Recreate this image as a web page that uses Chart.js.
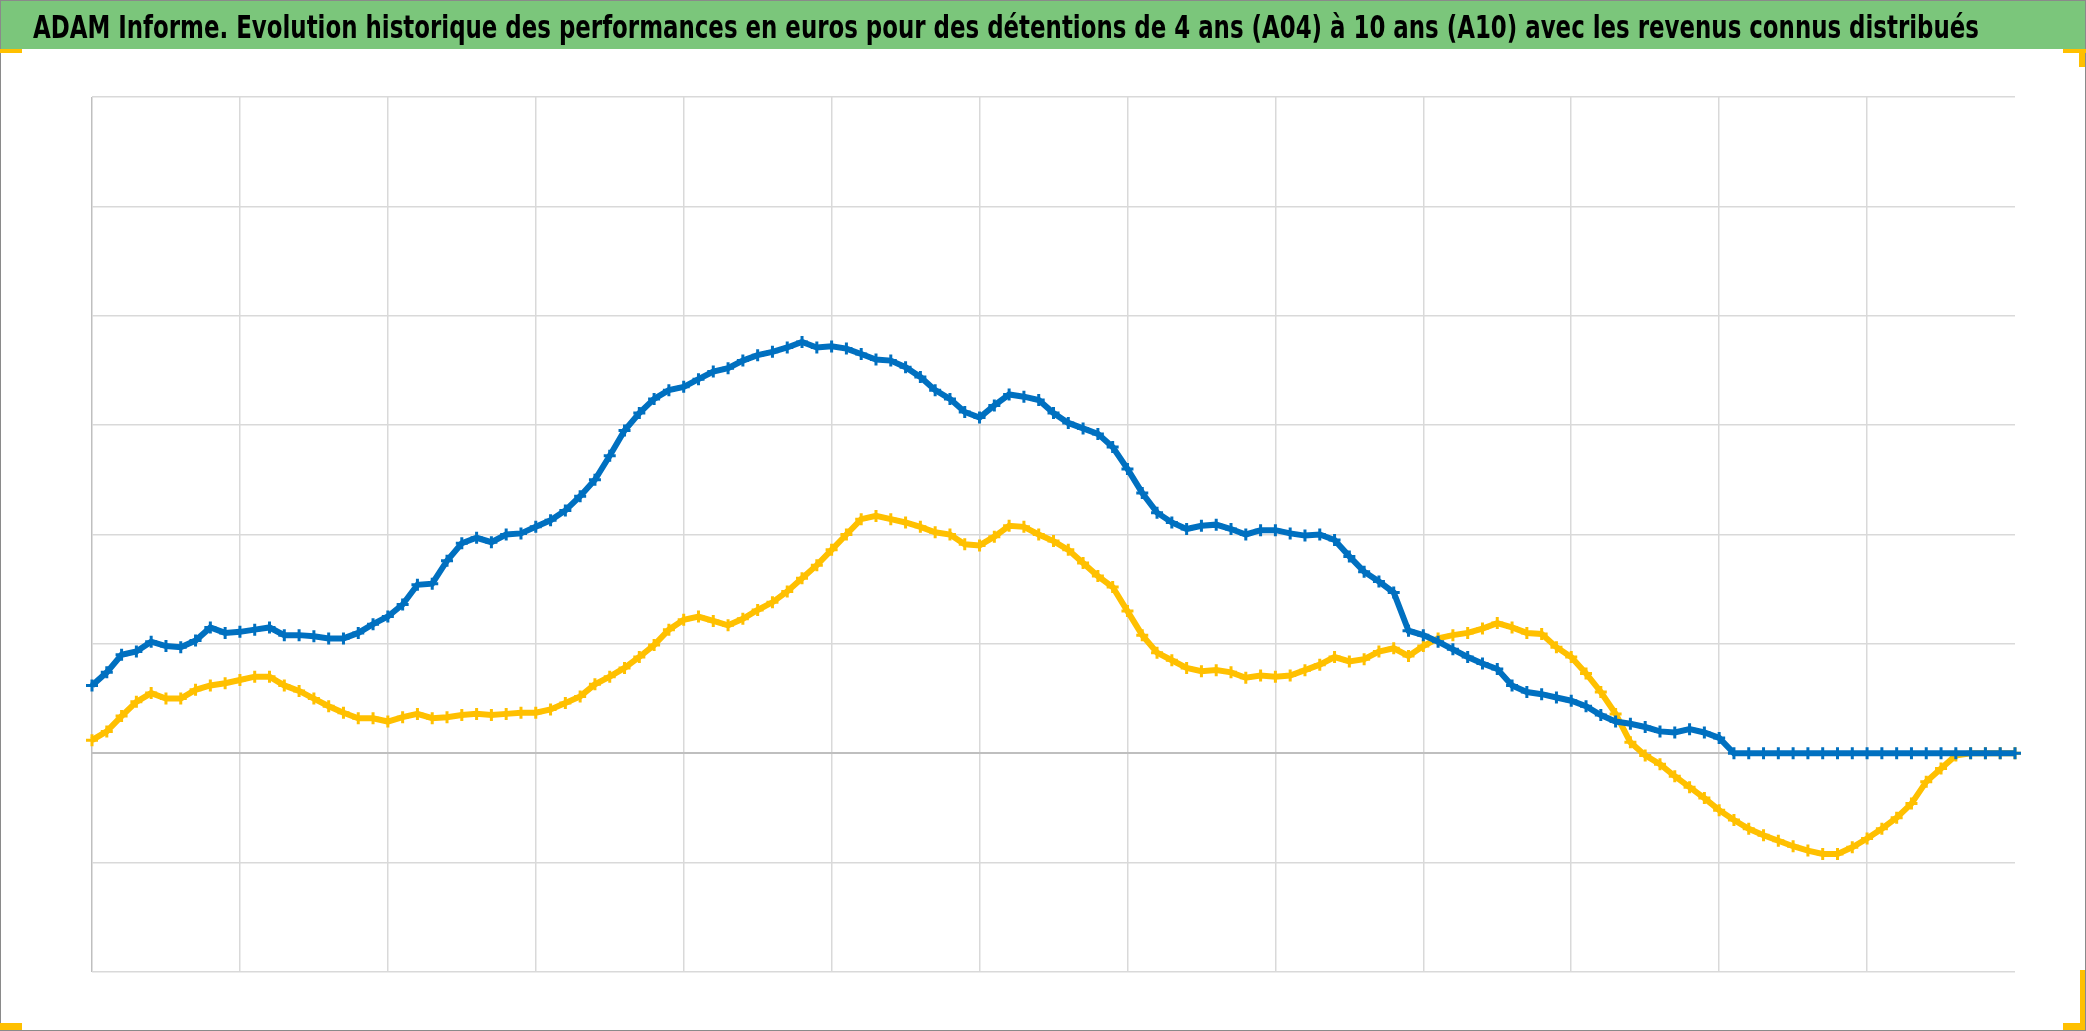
<!DOCTYPE html>
<html>
<head>
<meta charset="utf-8">
<script src="https://cdn.jsdelivr.net/npm/chart.js@4.4.1/dist/chart.umd.min.js"></script>
<style>
  html, body { margin: 0; padding: 0; background: #fff; }
  #wrap { position: relative; width: 2086px; height: 1031px; overflow: hidden; }
  #title-bar {
    position: absolute; left: 0; top: 0; width: 2086px; height: 49px;
    background: #7bc67b;
  }
  #title {
    position: absolute; left: 33px; top: 0; line-height: 49px; padding-top: 3px;
    white-space: nowrap; color: #000; font-weight: bold; font-size: 32px;
    font-family: "Liberation Sans Narrow", "DejaVu Sans Condensed", "Liberation Sans", sans-serif;
    transform-origin: 0 50%;
  }
  #chart-area { position: absolute; left: 0; top: 0; }
  #frame {
    position: absolute; left: 0; top: 0; width: 2086px; height: 1031px;
    box-sizing: border-box; border: 1px solid #8a8a8a; pointer-events: none;
  }
  .mark { position: absolute; background: #ffc000; }
</style>
</head>
<body>
<div id="wrap">
  <canvas id="chart-area" width="2086" height="1031"></canvas>
  <div id="title-bar"><span id="title">ADAM Informe. Evolution historique des performances en euros pour des détentions de 4 ans (A04) à 10 ans (A10) avec les revenus connus distribués</span></div>
  <div id="frame"></div>
  <div class="mark" style="left:0;top:49px;width:22px;height:4px"></div>
  <div class="mark" style="left:2063px;top:49px;width:23px;height:4px"></div>
  <div class="mark" style="left:2079px;top:49px;width:6px;height:18px"></div>
  <div class="mark" style="left:0;top:1023px;width:22px;height:7px"></div>
  <div class="mark" style="left:2063px;top:1023px;width:22px;height:7px"></div>
  <div class="mark" style="left:2080px;top:970px;width:5px;height:60px"></div>
</div>
<script>
// performance (thousands of euros), one value per period
var serieA10 = [
    0.62, 0.74, 0.90, 0.93, 1.02, 0.98, 0.97, 1.03, 1.15, 1.10,
    1.11, 1.13, 1.15, 1.08, 1.08, 1.07, 1.05, 1.05, 1.10, 1.18,
    1.25, 1.36, 1.54, 1.55, 1.76, 1.92, 1.97, 1.93, 2.00, 2.01,
    2.07, 2.13, 2.22, 2.35, 2.50, 2.72, 2.95, 3.11, 3.24, 3.32,
    3.35, 3.42, 3.49, 3.52, 3.59, 3.64, 3.67, 3.71, 3.76, 3.71,
    3.72, 3.70, 3.65, 3.60, 3.59, 3.53, 3.44, 3.32, 3.24, 3.12,
    3.07, 3.18, 3.28, 3.26, 3.23, 3.11, 3.02, 2.97, 2.92, 2.80,
    2.60, 2.38, 2.20, 2.11, 2.05, 2.08, 2.09, 2.05, 2.00, 2.04,
    2.04, 2.01, 1.99, 2.00, 1.95, 1.80, 1.66, 1.57, 1.47, 1.12,
    1.08, 1.02, 0.95, 0.88, 0.82, 0.77, 0.62, 0.56, 0.54, 0.51,
    0.48, 0.43, 0.35, 0.29, 0.27, 0.24, 0.20, 0.19, 0.22, 0.19,
    0.14, 0, 0, 0, 0, 0, 0, 0, 0, 0,
    0, 0, 0, 0, 0, 0, 0, 0, 0, 0,
    0
];
var serieA04 = [
    0.12, 0.20, 0.34, 0.47, 0.55, 0.50, 0.50, 0.58, 0.62, 0.64,
    0.67, 0.70, 0.70, 0.62, 0.57, 0.50, 0.43, 0.37, 0.32, 0.32,
    0.29, 0.33, 0.36, 0.32, 0.33, 0.35, 0.36, 0.35, 0.36, 0.37,
    0.37, 0.40, 0.46, 0.52, 0.63, 0.70, 0.78, 0.88, 0.99, 1.13,
    1.22, 1.25, 1.21, 1.17, 1.23, 1.31, 1.38, 1.48, 1.60, 1.72,
    1.86, 2.00, 2.14, 2.17, 2.14, 2.11, 2.07, 2.02, 2.00, 1.91,
    1.90, 1.98, 2.08, 2.07, 2.00, 1.94, 1.86, 1.74, 1.62, 1.52,
    1.30, 1.08, 0.92, 0.85, 0.78, 0.75, 0.76, 0.74, 0.69, 0.71,
    0.70, 0.71, 0.76, 0.81, 0.88, 0.84, 0.86, 0.93, 0.96, 0.89,
    0.98, 1.05, 1.08, 1.10, 1.14, 1.19, 1.15, 1.10, 1.09, 0.97,
    0.88, 0.73, 0.56, 0.36, 0.10, -0.02, -0.10, -0.21, -0.31, -0.41,
    -0.52, -0.61, -0.69, -0.75, -0.80, -0.85, -0.89, -0.92, -0.92, -0.86,
    -0.78, -0.69, -0.59, -0.46, -0.26, -0.14, -0.02, 0, 0, 0,
    0
];
var periods = serieA10.map(function(v, i) { return i; });
var yMin = -2, yMax = 6;

// fit the title to the width it has in the original
var t = document.getElementById("title");
t.style.transform = "scaleX(" + (1946 / t.getBoundingClientRect().width) + ")";

function points(values) {
    return values.map(function(v, i) { return {x: periods[i], y: v}; });
}

var config = {
    type: 'line',
    data: {
        datasets: [{
            label: 'A10',
            data: points(serieA10),
            borderColor: "#0070C0",
            backgroundColor: "#0070C0",
            borderWidth: 6,
            pointStyle: 'cross',
            pointRadius: 6,
            pointBorderWidth: 3,
            tension: 0,
            clip: 8
        }, {
            label: 'A04',
            data: points(serieA04),
            borderColor: "#FFC000",
            backgroundColor: "#FFC000",
            borderWidth: 6,
            pointStyle: 'cross',
            pointRadius: 6,
            pointBorderWidth: 3,
            tension: 0,
            clip: 8
        }]
    },
    options: {
        responsive: false,
        animation: false,
        layout: {
            padding: {left: 92, right: 71, top: 97, bottom: 59}
        },
        plugins: {
            legend: {display: false},
            tooltip: {enabled: false},
            title: {display: false}
        },
        scales: {
            x: {
                type: 'linear',
                min: 0,
                max: 130,
                ticks: {display: false, stepSize: 10},
                border: {display: false},
                grid: {
                    drawTicks: false,
                    lineWidth: 1.5,
                    color: function(c) {
                        if (c.tick.value === 0) return "#bfbfbf";
                        if (c.tick.value === 130) return "rgba(0,0,0,0)";
                        return "#d9d9d9";
                    }
                }
            },
            y: {
                min: yMin,
                max: yMax,
                ticks: {display: false, stepSize: 1},
                border: {display: false},
                grid: {
                    drawTicks: false,
                    lineWidth: function(c) { return c.tick.value === 0 ? 2 : 1.5; },
                    color: function(c) { return c.tick.value === 0 ? "#bfbfbf" : "#d9d9d9"; }
                }
            }
        }
    }
};

var ctx = document.getElementById("chart-area").getContext("2d");
var myChart = new Chart(ctx, config);
</script>
</body>
</html>
